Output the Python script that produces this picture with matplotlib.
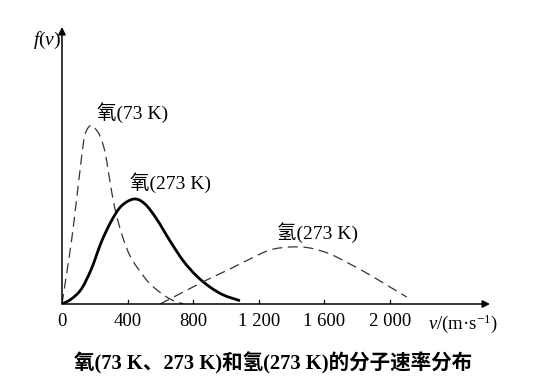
import matplotlib
matplotlib.use('Agg')
import matplotlib.pyplot as plt
from matplotlib.path import Path
from matplotlib.patches import PathPatch

plt.rcParams['font.family'] = ['Liberation Serif', 'Noto Sans CJK SC']
plt.rcParams['mathtext.fontset'] = 'custom'
plt.rcParams['mathtext.rm'] = 'Liberation Serif'
plt.rcParams['mathtext.it'] = 'Liberation Serif:italic'

# 氧 73 K (虚线)
v_o73 = [0, 26, 57, 87, 118, 138, 163, 189, 232, 262, 283, 303, 323, 343, 374, 415, 465, 526, 587, 659, 740]
f_o73 = [0, 28, 62, 102, 145, 168, 177, 178, 168, 152, 132, 112, 95, 82, 65, 48, 35, 22, 13, 5, 0]

# 氧 273 K (实线)
v_o273 = [0, 57, 118, 179, 240, 301, 362, 440, 506, 577, 659, 740, 821, 902, 984, 1085]
f_o273 = [0, 5, 15, 35, 62, 83, 98, 105, 100, 85, 63, 43, 28, 17, 9, 3.3]

# 氢 273 K (虚线)
v_h273 = [598, 740, 882, 1024, 1146, 1268, 1390, 1512, 1634, 1756, 1878, 2000, 2102]
f_h273 = [0, 12, 24, 35, 45, 54, 57, 56, 50, 40, 29, 17, 7]

ticks = [400, 800, 1200, 1600, 2000]
tick_labels = ['400', '800', '1 200', '1 600', '2 000']


def smooth_path(xs, ys):
    # 通过各点的平滑曲线 (Catmull-Rom -> 三次 Bezier)
    pts = list(zip(xs, ys))
    n = len(pts)
    verts = [pts[0]]
    codes = [Path.MOVETO]
    for i in range(n - 1):
        p0 = pts[i - 1] if i > 0 else pts[i]
        p1 = pts[i]
        p2 = pts[i + 1]
        p3 = pts[i + 2] if i + 2 < n else pts[i + 1]
        c1 = (p1[0] + (p2[0] - p0[0]) / 6, p1[1] + (p2[1] - p0[1]) / 6)
        c2 = (p2[0] - (p3[0] - p1[0]) / 6, p2[1] - (p3[1] - p1[1]) / 6)
        verts += [c1, c2, p2]
        codes += [Path.CURVE4] * 3
    return Path(verts, codes)


fig = plt.figure(figsize=(5.37, 3.83), dpi=100)
ax = fig.add_axes([62 / 537, 1 - 304 / 383, 428 / 537, 277 / 383])
xmax = 428 / 0.164
ax.set_xlim(0, xmax)
ax.set_ylim(0, 277)
ax.axis('off')

dash = (0, (8, 4.5))
ax.add_patch(PathPatch(smooth_path(v_o73, f_o73), fill=False, ec='#333333', lw=0.9, ls=dash))
ax.add_patch(PathPatch(smooth_path(v_o273, f_o273), fill=False, ec='black', lw=2.0))
ax.add_patch(PathPatch(smooth_path(v_h273, f_h273), fill=False, ec='#333333', lw=0.9, ls=dash))

# 坐标轴箭头
ax.annotate('', xy=(xmax, 0), xytext=(0, 0), annotation_clip=False,
            arrowprops=dict(arrowstyle='-|>', color='black', lw=1.1,
                            mutation_scale=11, shrinkA=0, shrinkB=0))
ax.annotate('', xy=(0, 277), xytext=(0, 0), annotation_clip=False,
            arrowprops=dict(arrowstyle='-|>', color='black', lw=1.1,
                            mutation_scale=11, shrinkA=0, shrinkB=0))

for t, lab in zip(ticks, tick_labels):
    ax.plot([t, t], [0, 4], color='black', lw=0.9)
    ax.text(t, -9, lab, ha='center', va='top', fontsize=13.5)
ax.text(0, -9, '0', ha='center', va='top', fontsize=13.5)

ax.text(2230, -8, r'$v$/(m·s$^{-1}$)', ha='left', va='top', fontsize=13.5)
ax.text(-4, 264, r'$f(v)$', ha='right', va='center', fontsize=14)

ax.text(213, 191, '氧(73 K)', ha='left', va='center', fontsize=14)
ax.text(415, 121, '氧(273 K)', ha='left', va='center', fontsize=14)
ax.text(1311, 71, '氢(273 K)', ha='left', va='center', fontsize=14)

fig.text(273 / 537, 1 - 363 / 383, '氧(73 K、273 K)和氢(273 K)的分子速率分布',
         ha='center', va='center', fontsize=14.8, fontweight='bold')

fig.savefig('out.png', dpi=100)
